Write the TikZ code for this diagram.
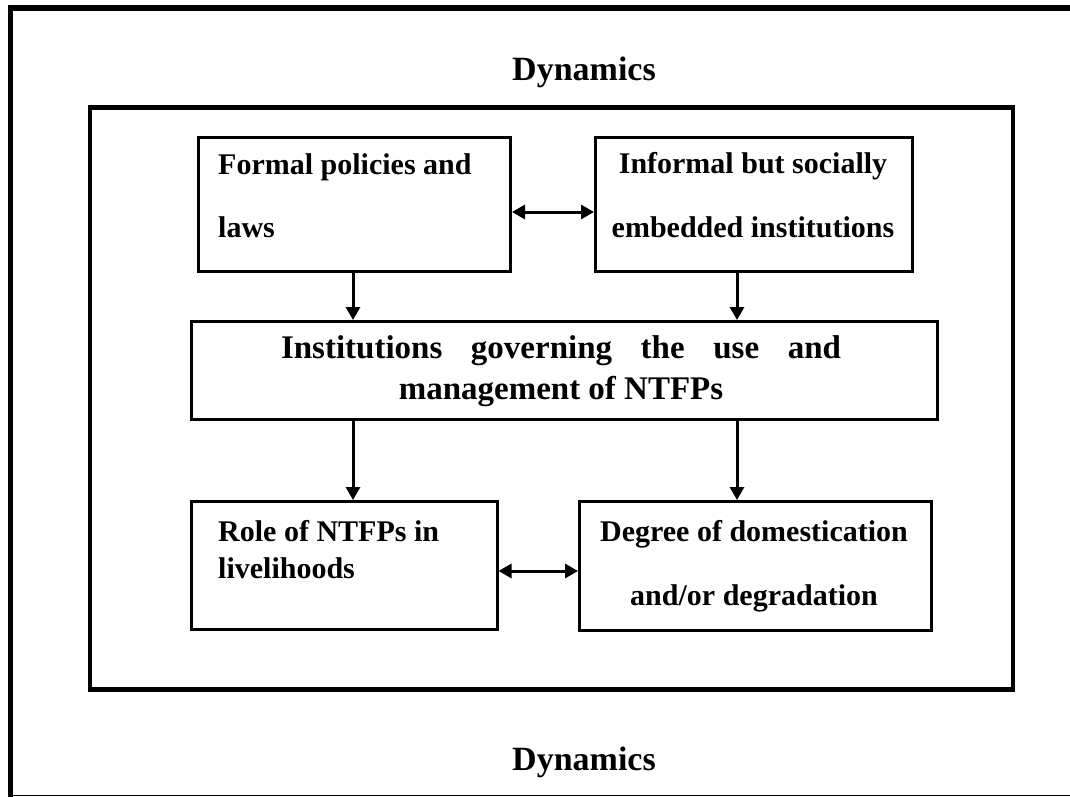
\documentclass[tikz,border=0pt]{standalone}
\usepackage{fontspec}
\setmainfont{Liberation Serif}
\usetikzlibrary{arrows.meta}
\tikzset{
  box/.style={draw=black, line width=3pt, fill=none},
  frame/.style={draw=black, line width=4.5pt},
  txt/.style={inner sep=0pt, font=\fontsize{30}{36}\selectfont\bfseries},
  bigtxt/.style={inner sep=0pt, font=\fontsize{33}{40}\selectfont\bfseries},
  ttl/.style={inner sep=0pt, font=\fontsize{34}{40}\selectfont\bfseries},
  arr/.style={line width=3pt, -{Triangle[length=13pt,width=14pt]}},
  darr/.style={line width=3pt, {Triangle[length=13pt,width=14pt]}-{Triangle[length=13pt,width=14pt]}},
}
\begin{document}
\begin{tikzpicture}[x=1pt,y=-1pt]
\useasboundingbox (0,0) rectangle (1070,797);
% outer frame (partly cut)
\draw[line width=5.5pt] (10.5,797) -- (10.5,8) -- (1070,8);
\draw[line width=1.5pt] (8,795.5) -- (1070,795.5);
% inner frame
\draw[frame] (90,107.5) rectangle (1013,689.5);
% titles
\node[ttl, anchor=base] (t1) at (584,81) {Dynamics};
\node[ttl, anchor=base] (t2) at (584,770) {Dynamics};
% boxes
\node[box, inner sep=0pt, minimum width=312pt, minimum height=134pt, anchor=north west] (b1) at (197,136) {};
\node[box, inner sep=0pt, minimum width=317pt, minimum height=134pt, anchor=north west] (b2) at (594,136) {};
\node[box, inner sep=0pt, minimum width=746pt, minimum height=98pt, anchor=north west] (b3) at (189.5,320) {};
\node[box, inner sep=0pt, minimum width=306pt, minimum height=128pt, anchor=north west] (b4) at (189.5,500) {};
\node[box, inner sep=0pt, minimum width=352pt, minimum height=129pt, anchor=north west] (b5) at (578,500) {};
% texts
\node[txt, anchor=base west] (b1a) at (218,174) {Formal policies and};
\node[txt, anchor=base west] (b1b) at (218,237) {laws};
\node[txt, anchor=base] (b2a) at (753,173) {Informal but socially};
\node[txt, anchor=base] (b2b) at (753,237) {embedded institutions};
\node[bigtxt, anchor=base] (b3a) at (561,358) {\makebox[560pt][s]{Institutions governing the use and}};
\node[bigtxt, anchor=base] (b3b) at (561,399) {management of NTFPs};
\node[txt, anchor=base west] (b4a) at (218,541) {Role of NTFPs in};
\node[txt, anchor=base west] (b4b) at (218,578) {livelihoods};
\node[txt, anchor=base] (b5a) at (754,541) {Degree of domestication};
\node[txt, anchor=base] (b5b) at (754,605) {and/or degradation};
% connectors
\draw[darr] (b1.east |- 0,212) -- (b2.west |- 0,212);
\draw[arr] (b1.south -| 353,0) -- (b3.north -| 353,0);
\draw[arr] (b2.south -| 737,0) -- (b3.north -| 737,0);
\draw[arr] (b3.south -| 353,0) -- (b4.north -| 353,0);
\draw[arr] (b3.south -| 737,0) -- (b5.north -| 737,0);
\draw[darr] (b4.east |- 0,571) -- (b5.west |- 0,571);
\end{tikzpicture}
\end{document}
